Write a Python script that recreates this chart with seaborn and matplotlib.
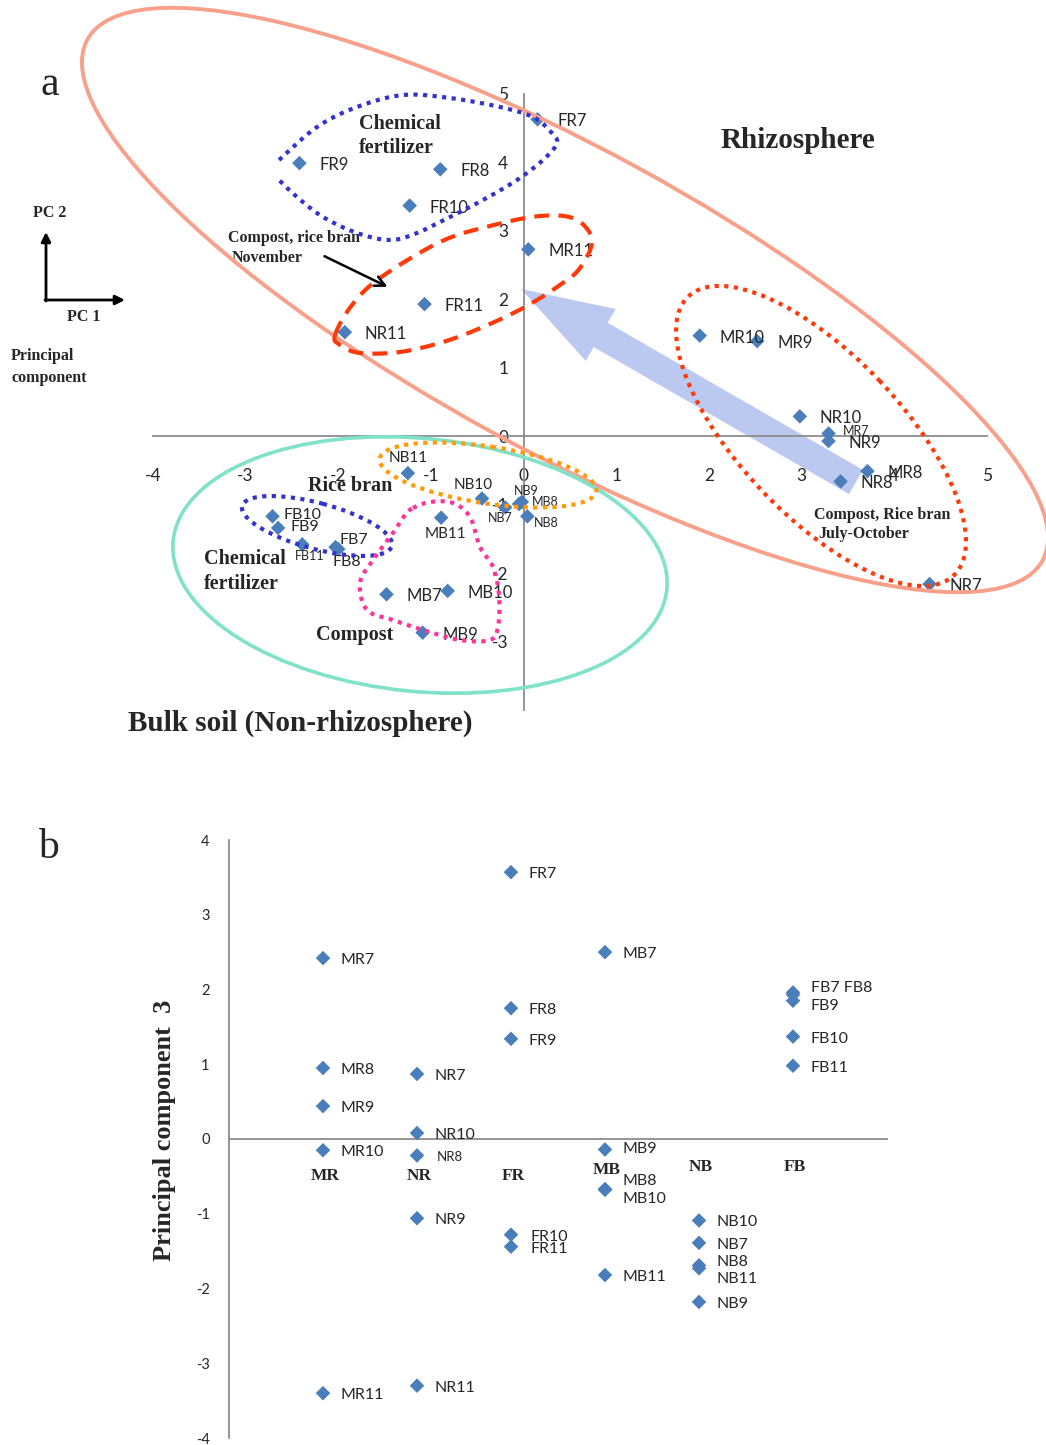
import numpy as np
import pandas as pd
import matplotlib
matplotlib.use("Agg")
import matplotlib.pyplot as plt
import matplotlib.transforms as mtransforms
import seaborn as sns
from matplotlib.patches import Ellipse, FancyArrow, FancyArrowPatch
from matplotlib.lines import Line2D

# ---------------- data ----------------
# panel a: PC1 / PC2 scores
names_a = ["FR7", "FR8", "FR9", "FR10", "FR11",
           "MR7", "MR8", "MR9", "MR10", "MR11",
           "NR7", "NR8", "NR9", "NR10", "NR11",
           "FB7", "FB8", "FB9", "FB10", "FB11",
           "MB7", "MB8", "MB9", "MB10", "MB11",
           "NB7", "NB8", "NB9", "NB10", "NB11"]
pc1 = [0.15, -0.90, -2.42, -1.23, -1.07,
       3.29, 3.71, 2.52, 1.90, 0.05,
       4.38, 3.42, 3.29, 2.98, -1.93,
       -2.03, -2.00, -2.65, -2.71, -2.39,
       -1.48, -0.02, -1.09, -0.82, -0.89,
       -0.20, 0.04, -0.05, -0.45, -1.25]
pc2 = [4.63, 3.90, 3.99, 3.37, 1.93,
       0.04, -0.51, 1.39, 1.47, 2.73,
       -2.16, -0.66, -0.07, 0.29, 1.52,
       -1.62, -1.65, -1.34, -1.17, -1.58,
       -2.31, -0.96, -2.87, -2.26, -1.19,
       -1.04, -1.17, -0.99, -0.91, -0.54]

# panel b: PC3 by treatment group
groups_b = ["MR", "NR", "FR", "MB", "NB", "FB"]
names_b = ["MR7", "MR8", "MR9", "MR10", "MR11",
           "NR7", "NR8", "NR9", "NR10", "NR11",
           "FR7", "FR8", "FR9", "FR10", "FR11",
           "MB7", "MB8", "MB9", "MB10", "MB11",
           "NB7", "NB8", "NB9", "NB10", "NB11",
           "FB7", "FB8", "FB9", "FB10", "FB11"]
pc3 = [2.42, 0.95, 0.44, -0.15, -3.40,
       0.87, -0.22, -1.06, 0.08, -3.30,
       3.57, 1.75, 1.34, -1.28, -1.44,
       2.50, -0.67, -0.14, -0.68, -1.82,
       -1.39, -1.69, -2.18, -1.09, -1.73,
       1.96, 1.93, 1.85, 1.37, 0.98]

df_a = pd.DataFrame({"name": names_a, "PC1": pc1, "PC2": pc2})
df_b = pd.DataFrame({"name": names_b, "PC3": pc3})
df_b["group"] = df_b["name"].str[:2]
df_b["pos"] = df_b["group"].map({g: i + 1 for i, g in enumerate(groups_b)})

# ---------------- style ----------------
sns.set_style("white")
plt.rcParams["font.family"] = ["Lato", "DejaVu Sans"]
plt.rcParams["axes.unicode_minus"] = False
SERIF = "Liberation Serif"
BLUE = "#4A7EBB"
GREY = "#8C8C8C"

W, H = 1046, 1445
fig = plt.figure(figsize=(W / 100, H / 100), dpi=100)
# pixel coordinates of the reference image (origin top-left)
px = mtransforms.Affine2D().scale(1 / W, -1 / H).translate(0, 1) + fig.transFigure


def axes_px(left, top, right, bottom):
    return fig.add_axes([left / W, 1 - bottom / H, (right - left) / W, (bottom - top) / H])


def spline(pts, closed=True, n=24):
    """Catmull-Rom curve through hand-placed outline points."""
    p = np.asarray(pts, float)
    if not closed:
        p = np.vstack([p[:1], p, p[-1:]])
    k = len(p)
    segs = range(k) if closed else range(1, k - 2)
    t = np.linspace(0, 1, n, endpoint=False)[:, None]
    out = []
    for i in segs:
        p0, p1, p2, p3 = p[i - 1], p[i], p[(i + 1) % k], p[(i + 2) % k]
        out.append(0.5 * (2 * p1 + (-p0 + p2) * t + (2 * p0 - 5 * p1 + 4 * p2 - p3) * t ** 2
                          + (-p0 + 3 * p1 - 3 * p2 + p3) * t ** 3))
    out = np.vstack(out)
    end = out[:1] if closed else p[-2:-1]
    return np.vstack([out, end])


def outline(pts, color, dashes, lw=3.0, closed=True):
    c = spline(pts, closed)
    fig.add_artist(Line2D(c[:, 0], c[:, 1], transform=px, color=color, lw=lw,
                          dashes=dashes, dash_capstyle="butt", zorder=4))


def ring(center, w, h, angle, color, lw=2.6, dashes=None, zorder=4):
    e = Ellipse(center, w, h, angle=angle, transform=px, fill=False,
                edgecolor=color, lw=lw, zorder=zorder)
    if dashes is not None:
        e.set_linestyle((0, dashes))
    fig.add_artist(e)


def ptext(x, y, s, size, ha="left", **kw):
    fig.text(x, y, s, transform=px, fontsize=size, ha=ha, va="center", **kw)


# ---------------- panel a ----------------
ax_a = axes_px(153, 94, 987, 710)
ax_a.patch.set_visible(False)
sns.scatterplot(data=df_a, x="PC1", y="PC2", marker="D", s=55, color=BLUE,
                edgecolor="none", ax=ax_a, legend=False, zorder=3)

# label offsets in pixels (dx right, dy down), alignment, font size
lab_a = {"MR7": (14, -2, "left", 9), "NB11": (0, -15, "center", 11),
         "NB10": (-9, -14, "center", 11), "NB9": (7, -13, "center", 9),
         "MB8": (10, 0, "left", 9), "NB7": (-5, 11, "center", 9),
         "NB8": (7, 7, "left", 9), "MB11": (4, 16, "center", 11),
         "FB10": (11, -1, "left", 11.5), "FB9": (12, -1, "left", 11.5),
         "FB7": (4, -7, "left", 11.5), "FB8": (-6, 13, "left", 11.5),
         "FB11": (-7, 12, "left", 9)}
for _, r in df_a.iterrows():
    dx, dy, ha, fs = lab_a.get(r["name"], (20, 2, "left", 12))
    ax_a.annotate(r["name"], (r["PC1"], r["PC2"]), xytext=(dx, -dy),
                  textcoords="offset pixels", ha=ha, va="center", fontsize=fs, zorder=5)

for s in ["top", "right"]:
    ax_a.spines[s].set_visible(False)
for s in ["left", "bottom"]:
    ax_a.spines[s].set_position(("data", 0))
    ax_a.spines[s].set_color(GREY)
    ax_a.spines[s].set_linewidth(1.3)
ax_a.set_xlim(-4, 5)
ax_a.set_ylim(-4, 5)
ax_a.set_xticks(range(-4, 6))
ax_a.set_yticks(range(-3, 6))
ax_a.tick_params(axis="x", direction="out", length=6, color=GREY, pad=17, labelsize=12.5)
ax_a.tick_params(axis="y", direction="out", length=6, color=GREY, pad=5, labelsize=12.5)
ax_a.set_xlabel("")
ax_a.set_ylabel("")

# group outlines
ring((565, 300), 1088, 302, 28.6, "#F9A08A", lw=2.8)             # rhizosphere
ring((420, 565), 496, 253, 5.6, "#80E2C8", lw=2.6)               # bulk soil
ring((821, 436), 385, 161, 46.4, "#FF3A0A", lw=3.0, dashes=(1, 1.3))
ring((488, 475), 219, 57, 8.5, "#FF9A0A", lw=3.0, dashes=(1, 1.3))
ring((317, 526), 155, 46, 15, "#3333CC", lw=3.0, dashes=(1, 1.3))
outline([(279, 160), (317, 127), (357, 107), (403, 95), (450, 98), (500, 107),
         (533, 117), (550, 131), (557, 143), (543, 160), (517, 180), (483, 200),
         (450, 217), (417, 233), (390, 240), (357, 233), (323, 217), (297, 197),
         (279, 180)], "#3333CC", (1, 1.3), closed=False)
outline([(335, 335), (352, 305), (380, 278), (440, 242), (490, 226), (540, 216),
         (575, 219), (592, 240), (580, 268), (560, 285), (525, 307), (483, 327),
         (443, 342), (400, 352), (360, 353), (340, 345)], "#FF3A0A", (3.6, 2.2))
outline([(413, 508), (430, 502), (453, 503), (470, 517), (480, 547), (493, 567),
         (499, 595), (498, 627), (490, 640), (460, 640), (423, 630), (393, 620),
         (367, 610), (360, 583), (373, 560), (393, 533), (405, 515)],
        "#FF3399", (1, 1.3))

# arrows
fig.add_artist(FancyArrow(856, 482, -335, -193, width=28, head_width=60, head_length=92,
                          length_includes_head=True, transform=px, color="#8EA6E6",
                          alpha=0.6, lw=0, zorder=-1))
fig.add_artist(FancyArrowPatch((322, 255), (390, 288), transform=px, arrowstyle="->",
                               mutation_scale=18, lw=1.8, color="black", zorder=5))
fig.add_artist(FancyArrowPatch((46, 301), (46, 232), transform=px, arrowstyle="-|>",
                               mutation_scale=14, lw=2, color="black", shrinkA=0, shrinkB=0))
fig.add_artist(FancyArrowPatch((45, 300), (125, 300), transform=px, arrowstyle="-|>",
                               mutation_scale=14, lw=2, color="black", shrinkA=0, shrinkB=0))

# annotations
bold = dict(family=SERIF, fontweight="bold")
ptext(50, 85, "a", 30, ha="center", family=SERIF)
ptext(798, 140, "Rhizosphere", 21, ha="center", **bold)
ptext(300, 723, "Bulk soil (Non-rhizosphere)", 21, ha="center", **bold)
ptext(359, 124, "Chemical", 14.5, **bold)
ptext(359, 148, "fertilizer", 14.5, **bold)
ptext(228, 238, "Compost, rice bran", 11.5, **bold)
ptext(232, 258, "November", 11.5, **bold)
ptext(814, 515, "Compost, Rice bran", 11.5, **bold)
ptext(818, 534, "July-October", 11.5, **bold)
ptext(308, 486, "Rice bran", 14.5, **bold)
ptext(204, 559, "Chemical", 14.5, **bold)
ptext(204, 584, "fertilizer", 14.5, **bold)
ptext(316, 635, "Compost", 14.5, **bold)
ptext(50, 213, "PC 2", 11.5, ha="center", **bold)
ptext(84, 317, "PC 1", 11.5, ha="center", **bold)
ptext(11, 356, "Principal", 11.5, **bold)
ptext(11, 378, "component", 11.5, **bold)

# ---------------- panel b ----------------
ax_b = axes_px(229, 840, 887, 1438)
ax_b.patch.set_visible(False)
sns.scatterplot(data=df_b, x="pos", y="PC3", marker="D", s=55, color=BLUE,
                edgecolor="none", ax=ax_b, legend=False, zorder=3)

lab_b = {"NR8": (20, 2, 9.5, "NR8"), "MB9": (18, 0, 11.5, "MB9"),
         "MB8": (18, -8, 11.5, "MB8"), "MB10": (18, 9, 11.5, "MB10"),
         "NB8": (18, -3, 11.5, "NB8"), "NB11": (18, 11, 11.5, "NB11"),
         "FB7": (18, -4, 11.5, "FB7 FB8"), "FB8": (18, 0, 11.5, ""),
         "FB9": (18, 5, 11.5, "FB9"), "FR10": (19, 2, 11.5, "FR10"),
         "FR11": (19, 2, 11.5, "FR11")}
for _, r in df_b.iterrows():
    dx, dy, fs, txt = lab_b.get(r["name"], (18, 2, 11.5, r["name"]))
    ax_b.annotate(txt, (r["pos"], r["PC3"]), xytext=(dx, -dy), textcoords="offset pixels",
                  ha="left", va="center", fontsize=fs, zorder=5)

for s in ["top", "right"]:
    ax_b.spines[s].set_visible(False)
ax_b.spines["bottom"].set_position(("data", 0))
for s in ["left", "bottom"]:
    ax_b.spines[s].set_color(GREY)
    ax_b.spines[s].set_linewidth(1.3)
ax_b.set_xlim(0, 7)
ax_b.set_ylim(-4, 4)
ax_b.set_xticks(range(1, 8))
ax_b.set_xticklabels([])
ax_b.set_yticks(range(-4, 5))
ax_b.tick_params(axis="both", direction="out", length=6, color=GREY, labelsize=10.5)
ax_b.tick_params(axis="y", pad=8)
ax_b.set_xlabel("")
ax_b.set_ylabel("")

# category names sit just under the zero line
cat_y = [1176, 1176, 1176, 1170, 1167, 1167]
for i, g in enumerate(groups_b):
    x_pix = 229 + (i + 1) * (887 - 229) / 7
    ptext(x_pix + 2, cat_y[i], g, 12.5, ha="center", **bold)

ptext(48, 848, "b", 30, ha="center", family=SERIF)
fig.text(165, 1130, "Principal component  3", transform=px, rotation=90, fontsize=19,
         ha="center", va="center", **bold)

fig.savefig("out.png", dpi=100)
